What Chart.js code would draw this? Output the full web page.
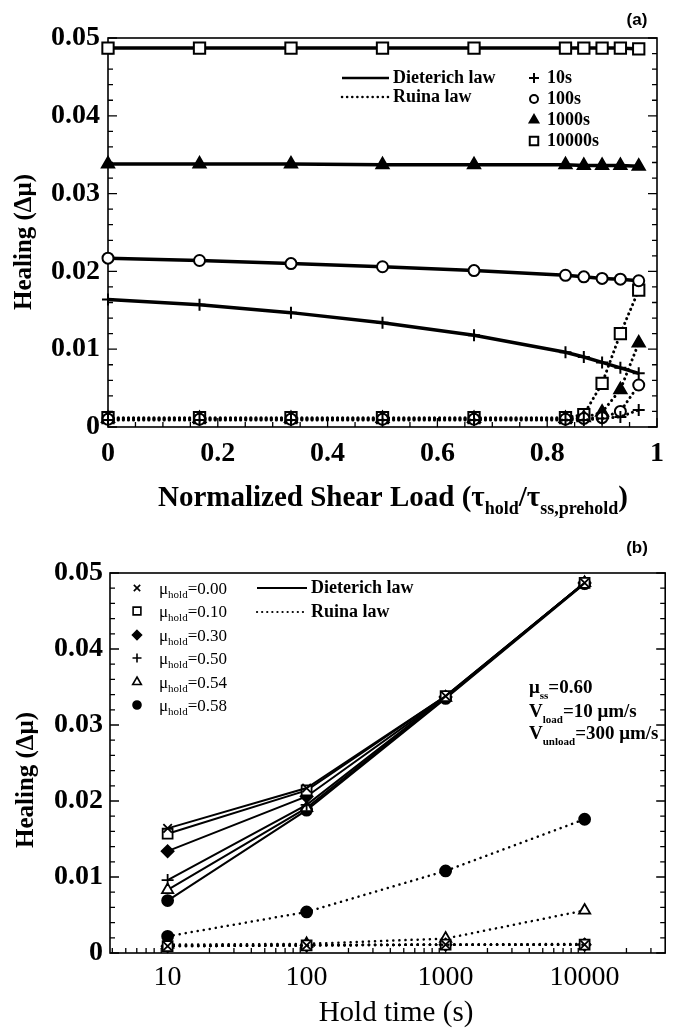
<!DOCTYPE html>
<html><head><meta charset="utf-8">
<script src="https://cdn.jsdelivr.net/npm/chart.js@4.4.1/dist/chart.umd.min.js"></script>
<style>
html,body{margin:0;padding:0;background:#fff;}
#wrap{position:relative;width:674px;height:1028px;overflow:hidden;}
#ca{position:absolute;left:0;top:0;}
#cb{position:absolute;left:0;top:520px;}
</style></head><body>
<div id="wrap"><canvas id="ca" width="674" height="520"></canvas><canvas id="cb" width="674" height="508"></canvas></div>
<script>
// ---------- Panel (a) data ----------
const shearLoad = [0, 0.1667, 0.3333, 0.5, 0.6667, 0.8333, 0.8667, 0.9, 0.9333, 0.9667];
const dieterich10s    = [0.0164, 0.0157, 0.0147, 0.0134, 0.0118, 0.0096, 0.0090, 0.0083, 0.0076, 0.0069];
const dieterich100s   = [0.0217, 0.0214, 0.0210, 0.0206, 0.0201, 0.0195, 0.0193, 0.0191, 0.0190, 0.0188];
const dieterich1000s  = [0.0338, 0.0338, 0.0338, 0.0337, 0.0337, 0.0337, 0.0336, 0.0336, 0.0336, 0.0335];
const dieterich10000s = [0.0487, 0.0487, 0.0487, 0.0487, 0.0487, 0.0487, 0.0487, 0.0487, 0.0487, 0.0486];
const ruina10s    = [0.0009, 0.0009, 0.0009, 0.0009, 0.0009, 0.0009, 0.0009, 0.0011, 0.0013, 0.0022];
const ruina100s   = [0.0010, 0.0010, 0.0010, 0.0010, 0.0010, 0.0010, 0.0011, 0.0012, 0.0020, 0.0054];
const ruina1000s  = [0.0011, 0.0011, 0.0011, 0.0011, 0.0011, 0.0011, 0.0012, 0.0019, 0.0048, 0.0108];
const ruina10000s = [0.0012, 0.0012, 0.0012, 0.0012, 0.0012, 0.0012, 0.0016, 0.0056, 0.0120, 0.0176];
const aXTicks = [0, 0.2, 0.4, 0.6, 0.8, 1];
const aXTickLabels = ['0', '0.2', '0.4', '0.6', '0.8', '1'];
const aYTicks = [0, 0.01, 0.02, 0.03, 0.04, 0.05];
const aYTickLabels = ['0', '0.01', '0.02', '0.03', '0.04', '0.05'];
const aHoldLabels = ['10s', '100s', '1000s', '10000s'];

// ---------- Panel (b) data ----------
const holdTime = [10, 100, 1000, 10000];
const muHold = ['0.00', '0.10', '0.30', '0.50', '0.54', '0.58'];
const dieterichMu000 = [0.0164, 0.0217, 0.0338, 0.0487];
const dieterichMu010 = [0.0157, 0.0214, 0.0338, 0.0487];
const dieterichMu030 = [0.0134, 0.0206, 0.0337, 0.0487];
const dieterichMu050 = [0.0096, 0.0195, 0.0337, 0.0487];
const dieterichMu054 = [0.0083, 0.0191, 0.0336, 0.0487];
const dieterichMu058 = [0.0069, 0.0188, 0.0335, 0.0486];
const ruinaMu000 = [0.0009, 0.0010, 0.0011, 0.0011];
const ruinaMu010 = [0.0009, 0.0010, 0.0011, 0.0011];
const ruinaMu030 = [0.0009, 0.0010, 0.0011, 0.0011];
const ruinaMu050 = [0.0010, 0.0011, 0.0011, 0.0012];
const ruinaMu054 = [0.0011, 0.0012, 0.0019, 0.0056];
const ruinaMu058 = [0.0022, 0.0054, 0.0108, 0.0176];
const bXTicks = [10, 100, 1000, 10000];
const bXTickLabels = ['10', '100', '1000', '10000'];
const bYTicks = [0, 0.01, 0.02, 0.03, 0.04, 0.05];
const bYTickLabels = ['0', '0.01', '0.02', '0.03', '0.04', '0.05'];

// ---------- helpers ----------
const SERIF = '"Liberation Serif", "Times New Roman", serif';
const SANS = '"Liberation Sans", Arial, sans-serif';
const pts = (xs, ys) => xs.map((x, i) => ({x: x, y: ys[i]}));

function drawMarker(ctx, style, x, y, r, filled, lw) {
  ctx.save();
  ctx.lineWidth = lw; ctx.strokeStyle = '#000'; ctx.fillStyle = filled ? '#000' : '#fff';
  ctx.beginPath();
  if (style === 'circle') { ctx.arc(x, y, r, 0, Math.PI * 2); ctx.fill(); ctx.stroke(); }
  else if (style === 'rect') { const o = r * Math.SQRT1_2; ctx.rect(x - o, y - o, 2 * o, 2 * o); ctx.fill(); ctx.stroke(); }
  else if (style === 'rectRot') { ctx.moveTo(x, y - r); ctx.lineTo(x + r, y); ctx.lineTo(x, y + r); ctx.lineTo(x - r, y); ctx.closePath(); ctx.fill(); ctx.stroke(); }
  else if (style === 'triangle') { ctx.moveTo(x, y - r); ctx.lineTo(x + r * 0.866, y + r * 0.5); ctx.lineTo(x - r * 0.866, y + r * 0.5); ctx.closePath(); ctx.fill(); ctx.stroke(); }
  else if (style === 'cross') { ctx.moveTo(x - r, y); ctx.lineTo(x + r, y); ctx.moveTo(x, y - r); ctx.lineTo(x, y + r); ctx.stroke(); }
  else if (style === 'crossRot') { const o = r * 0.707; ctx.moveTo(x - o, y - o); ctx.lineTo(x + o, y + o); ctx.moveTo(x + o, y - o); ctx.lineTo(x - o, y + o); ctx.stroke(); }
  ctx.restore();
}

// parts: [text, isSub]
function drawRich(ctx, parts, x, yMid, size, subSize, weight, align) {
  ctx.save();
  ctx.fillStyle = '#000';
  ctx.textBaseline = 'alphabetic';
  ctx.textAlign = 'left';
  const fMain = weight + ' ' + size + 'px ' + SERIF;
  const fSub = weight + ' ' + subSize + 'px ' + SERIF;
  let total = 0;
  parts.forEach(p => { ctx.font = p[1] ? fSub : fMain; total += ctx.measureText(p[0]).width; });
  let cx = align === 'center' ? x - total / 2 : x;
  const base = yMid + size * 0.33;
  parts.forEach(p => {
    ctx.font = p[1] ? fSub : fMain;
    ctx.fillText(p[0], cx, p[1] ? base + size * 0.28 : base);
    cx += ctx.measureText(p[0]).width;
  });
  ctx.restore();
}

function drawFrame(chart, yMaj, yMin, xMaj, xMin) {
  const ctx = chart.ctx, a = chart.chartArea, xs = chart.scales.x, ys = chart.scales.y;
  ctx.save();
  ctx.strokeStyle = '#000';
  ctx.lineWidth = 1.6;
  ctx.strokeRect(a.left, a.top, a.right - a.left, a.bottom - a.top);
  ctx.lineWidth = 1.3;
  ctx.beginPath();
  const yT = (v, L) => { const p = ys.getPixelForValue(v); ctx.moveTo(a.left, p); ctx.lineTo(a.left + L, p); ctx.moveTo(a.right, p); ctx.lineTo(a.right - L, p); };
  const xT = (v, L) => { const p = xs.getPixelForValue(v); if (p < a.left - 0.5 || p > a.right + 0.5) return; ctx.moveTo(p, a.bottom); ctx.lineTo(p, a.bottom - L); };
  yMaj.forEach(v => yT(v, 9)); yMin.forEach(v => yT(v, 5));
  xMaj.forEach(v => xT(v, 9)); xMin.forEach(v => xT(v, 5));
  ctx.stroke();
  ctx.restore();
}

function yTitle(ctx, text, x, y) {
  ctx.save();
  ctx.translate(x, y); ctx.rotate(-Math.PI / 2);
  ctx.font = 'bold 25px ' + SERIF; ctx.fillStyle = '#000';
  ctx.textAlign = 'center'; ctx.textBaseline = 'middle';
  ctx.fillText(text, 0, 0);
  ctx.restore();
}

const aYMinor = []; for (let k = 0; k <= 25; k++) aYMinor.push(k * 0.002);
const aXMinor = []; for (let k = 0; k <= 20; k++) aXMinor.push(k * 0.05);
const bYMinor = aYMinor.slice();
const bXMinor = []; for (let e = 0; e <= 4; e++) for (let d = 2; d <= 9; d++) bXMinor.push(d * Math.pow(10, e));

// ---------- Panel (a) ----------
const solidA = (data, style, filled, r) => ({
  data: data, borderColor: '#000', borderWidth: 3.5, pointStyle: style, pointRadius: r,
  pointBackgroundColor: filled ? '#000' : '#fff', pointBorderColor: '#000', pointBorderWidth: 2,
  fill: false, tension: 0, clip: false
});
const dotA = (data, style, filled, r) => ({
  data: data, borderColor: '#000', borderWidth: 3, borderDash: [0.1, 5], borderCapStyle: 'round',
  pointStyle: style, pointRadius: r, pointBackgroundColor: filled ? '#000' : '#fff',
  pointBorderColor: '#000', pointBorderWidth: 2, fill: false, tension: 0, clip: false
});

const decorA = {
  id: 'decorA',
  beforeDatasetsDraw(chart) { drawFrame(chart, aYTicks, aYMinor, aXTicks, aXMinor); },
  afterDraw(chart) {
    const ctx = chart.ctx;
    ctx.save();
    ctx.fillStyle = '#000';
    ctx.font = 'bold 17px ' + SANS; ctx.textAlign = 'center'; ctx.textBaseline = 'middle';
    ctx.fillText('(a)', 637, 20);
    // law legend
    ctx.strokeStyle = '#000'; ctx.lineWidth = 2.5;
    ctx.beginPath(); ctx.moveTo(342, 78); ctx.lineTo(389, 78); ctx.stroke();
    ctx.setLineDash([0.1, 5]); ctx.lineCap = 'round';
    ctx.beginPath(); ctx.moveTo(342, 97); ctx.lineTo(389, 97); ctx.stroke();
    ctx.setLineDash([]); ctx.lineCap = 'butt';
    ctx.font = 'bold 18px ' + SERIF; ctx.textAlign = 'left';
    ctx.fillText('Dieterich law', 393, 78);
    ctx.fillText('Ruina law', 393, 97);
    // hold time legend
    const rows = [78, 99, 120, 141];
    const mk = [['cross', false, 5], ['circle', false, 4], ['triangle', true, 5], ['rect', false, 6]];
    aHoldLabels.forEach((t, i) => {
      drawMarker(ctx, mk[i][0], 534, rows[i], mk[i][2], mk[i][1], 2);
      ctx.fillText(t, 547, rows[i]);
    });
    yTitle(ctx, 'Healing (\u0394\u03bc)', 25, 242);
    ctx.restore();
    drawRich(ctx, [['Normalized Shear Load (', 0], ['\u03c4', 0], ['hold', 1], ['/', 0], ['\u03c4', 0], ['ss,prehold', 1], [')', 0]], 393, 496, 29, 18, 'bold', 'center');
  }
};

new Chart(document.getElementById('ca'), {
  type: 'line',
  data: {
    datasets: [
      solidA(pts(shearLoad, dieterich10000s), 'rect', false, 8),
      solidA(pts(shearLoad, dieterich1000s), 'triangle', true, 7),
      solidA(pts(shearLoad, dieterich100s), 'circle', false, 5.5),
      solidA(pts(shearLoad, dieterich10s), 'cross', false, 6),
      dotA(pts(shearLoad, ruina10s), 'cross', false, 6),
      dotA(pts(shearLoad, ruina100s), 'circle', false, 5.5),
      dotA(pts(shearLoad, ruina1000s), 'triangle', true, 7),
      dotA(pts(shearLoad, ruina10000s), 'rect', false, 8)
    ]
  },
  options: {
    responsive: false, animation: false, devicePixelRatio: 1,
    layout: {padding: {top: 38, right: 6, left: 0, bottom: 33}},
    plugins: {legend: {display: false}, tooltip: {enabled: false}},
    scales: {
      x: {
        type: 'linear', min: 0, max: 1,
        afterBuildTicks: s => { s.ticks = aXTicks.map(v => ({value: v})); },
        afterFit: s => { s.height = 60; },
        grid: {display: false, drawTicks: false}, border: {display: false},
        ticks: {callback: (v, i) => aXTickLabels[i], color: '#000', padding: 10, maxRotation: 0, autoSkip: false,
          font: {family: SERIF, weight: 'bold', size: 28}}
      },
      y: {
        type: 'linear', min: 0, max: 0.05,
        afterBuildTicks: s => { s.ticks = aYTicks.map(v => ({value: v})); },
        afterFit: s => { s.width = 108; },
        grid: {display: false, drawTicks: false}, border: {display: false},
        ticks: {callback: (v, i) => aYTickLabels[i], color: '#000', padding: 8, autoSkip: false,
          font: {family: SERIF, weight: 'bold', size: 28}}
      }
    }
  },
  plugins: [decorA]
});

// ---------- Panel (b) ----------
const bStyles = [['crossRot', false, 6], ['rect', false, 7], ['rectRot', true, 6], ['cross', false, 6], ['triangle', false, 6.5], ['circle', true, 5.5]];
const solidB = (data, k) => ({
  data: data, borderColor: '#000', borderWidth: 2, pointStyle: bStyles[k][0], pointRadius: bStyles[k][2],
  pointBackgroundColor: bStyles[k][1] ? '#000' : '#fff', pointBorderColor: '#000', pointBorderWidth: 1.8,
  fill: false, tension: 0, clip: false
});
const dotB = (data, k) => ({
  data: data, borderColor: '#000', borderWidth: 2.5, borderDash: [0.1, 6], borderCapStyle: 'round',
  pointStyle: bStyles[k][0], pointRadius: bStyles[k][2],
  pointBackgroundColor: bStyles[k][1] ? '#000' : '#fff', pointBorderColor: '#000', pointBorderWidth: 1.8,
  fill: false, tension: 0, clip: false
});

const decorB = {
  id: 'decorB',
  beforeDatasetsDraw(chart) { drawFrame(chart, bYTicks, bYMinor, bXTicks, bXMinor); },
  afterDraw(chart) {
    const ctx = chart.ctx;
    ctx.save();
    ctx.fillStyle = '#000';
    ctx.font = 'bold 17px ' + SANS; ctx.textAlign = 'center'; ctx.textBaseline = 'middle';
    ctx.fillText('(b)', 637, 28);
    // law legend
    ctx.strokeStyle = '#000'; ctx.lineWidth = 2;
    ctx.beginPath(); ctx.moveTo(257, 68); ctx.lineTo(307, 68); ctx.stroke();
    ctx.setLineDash([0.1, 5]); ctx.lineCap = 'round'; ctx.lineWidth = 2.2;
    ctx.beginPath(); ctx.moveTo(257, 92); ctx.lineTo(307, 92); ctx.stroke();
    ctx.setLineDash([]); ctx.lineCap = 'butt';
    ctx.font = 'bold 18px ' + SERIF; ctx.textAlign = 'left';
    ctx.fillText('Dieterich law', 311, 68);
    ctx.fillText('Ruina law', 311, 92);
    const rows = [68, 91, 115, 138, 162, 185];
    muHold.forEach((m, i) => {
      drawMarker(ctx, bStyles[i][0], 137, rows[i], bStyles[i][2] - 1.5, bStyles[i][1], 1.6);
    });
    yTitle(ctx, 'Healing (\u0394\u03bc)', 27, 260);
    ctx.font = '29px ' + SERIF; ctx.textAlign = 'center';
    ctx.fillText('Hold time (s)', 396, 493);
    ctx.restore();
    muHold.forEach((m, i) => {
      drawRich(ctx, [['\u03bc', 0], ['hold', 1], ['=' + m, 0]], 159, rows[i], 17, 11, 'normal', 'left');
    });
    drawRich(ctx, [['\u03bc', 0], ['ss', 1], ['=0.60', 0]], 529, 167, 19, 11, 'bold', 'left');
    drawRich(ctx, [['V', 0], ['load', 1], ['=10 \u03bcm/s', 0]], 529, 191, 19, 11, 'bold', 'left');
    drawRich(ctx, [['V', 0], ['unload', 1], ['=300 \u03bcm/s', 0]], 529, 213, 19, 11, 'bold', 'left');
  }
};

new Chart(document.getElementById('cb'), {
  type: 'line',
  data: {
    datasets: [
      solidB(pts(holdTime, dieterichMu000), 0),
      solidB(pts(holdTime, dieterichMu010), 1),
      solidB(pts(holdTime, dieterichMu030), 2),
      solidB(pts(holdTime, dieterichMu050), 3),
      solidB(pts(holdTime, dieterichMu054), 4),
      solidB(pts(holdTime, dieterichMu058), 5),
      dotB(pts(holdTime, ruinaMu000), 0),
      dotB(pts(holdTime, ruinaMu010), 1),
      dotB(pts(holdTime, ruinaMu030), 2),
      dotB(pts(holdTime, ruinaMu050), 3),
      dotB(pts(holdTime, ruinaMu054), 4),
      dotB(pts(holdTime, ruinaMu058), 5)
    ]
  },
  options: {
    responsive: false, animation: false, devicePixelRatio: 1,
    layout: {padding: {top: 53, right: 6, left: 0, bottom: 30}},
    plugins: {legend: {display: false}, tooltip: {enabled: false}},
    scales: {
      x: {
        type: 'logarithmic', min: 3.85, max: 38000,
        afterBuildTicks: s => { s.ticks = bXTicks.map(v => ({value: v})); },
        afterFit: s => { s.height = 45; },
        grid: {display: false, drawTicks: false}, border: {display: false},
        ticks: {callback: (v, i) => bXTickLabels[i], color: '#000', padding: 8, maxRotation: 0, autoSkip: false,
          font: {family: SERIF, weight: 'normal', size: 28}}
      },
      y: {
        type: 'linear', min: 0, max: 0.05,
        afterBuildTicks: s => { s.ticks = bYTicks.map(v => ({value: v})); },
        afterFit: s => { s.width = 110; },
        grid: {display: false, drawTicks: false}, border: {display: false},
        ticks: {callback: (v, i) => bYTickLabels[i], color: '#000', padding: 7, autoSkip: false,
          font: {family: SERIF, weight: 'bold', size: 28}}
      }
    }
  },
  plugins: [decorB]
});
</script>
</body></html>
